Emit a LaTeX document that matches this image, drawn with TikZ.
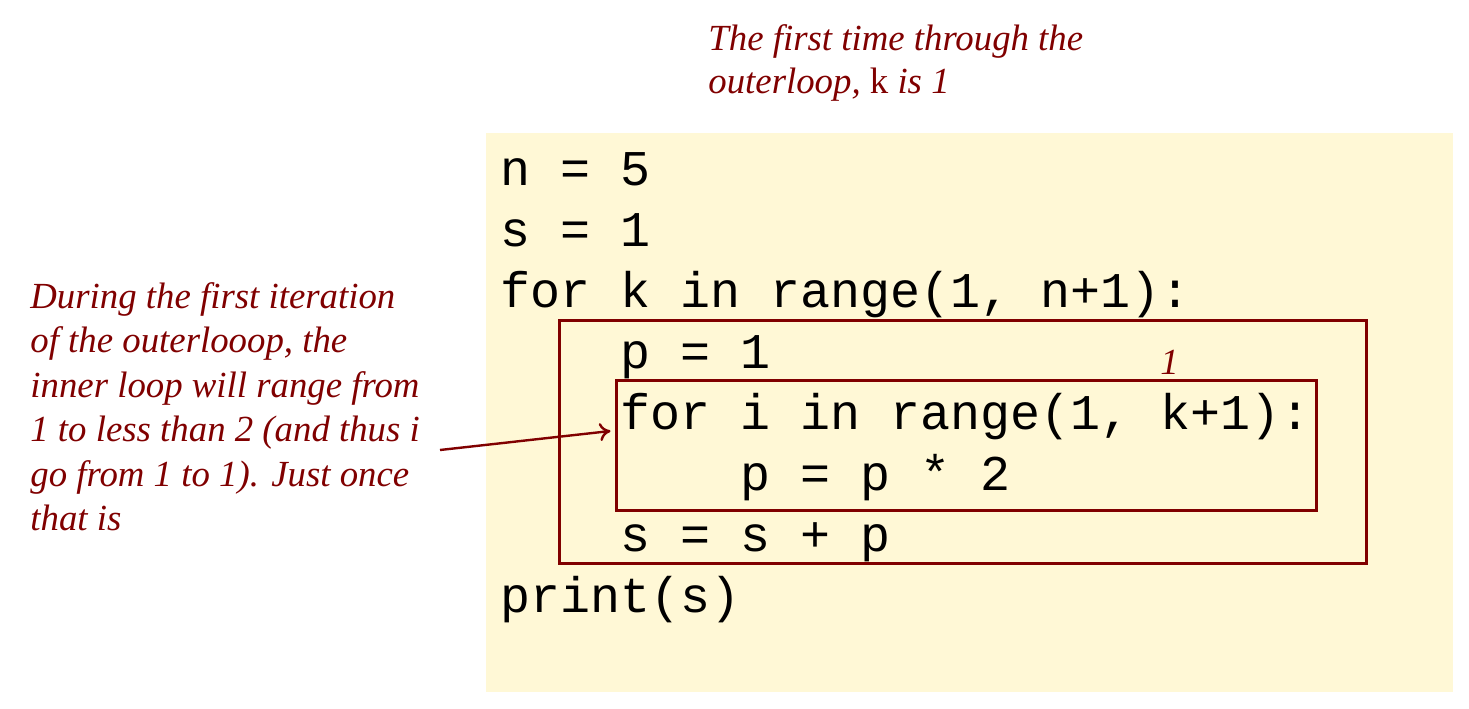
\documentclass[tikz,border=0pt]{standalone}
\usepackage{fontspec}
\setmainfont{Liberation Serif}
\setmonofont{Liberation Mono}
\usetikzlibrary{fit,arrows.meta}
\definecolor{darkred}{RGB}{128,0,0}
\definecolor{codebg}{RGB}{255,248,214}
\begin{document}
\begin{tikzpicture}[x=0.5pt,y=-0.5pt,
  code/.style={anchor=base west,inner sep=0pt,font=\ttfamily\fontsize{25}{30}\selectfont},
  note/.style={anchor=base west,inner sep=0pt,text=darkred,font=\itshape\fontsize{18.4}{22}\selectfont},
  loopbox/.style={draw=darkred,line width=1.5pt,inner sep=0pt},
  pointer/.style={draw=darkred,line width=1.2pt,-{To[length=5.5pt,width=9pt]}}]
\useasboundingbox (0,0) rectangle (1469,708);
\node[fit={(486,133) (1453,692)},inner sep=0pt,fill=codebg] (bg) {};
% annotations
\node[note] (t1) at (708,50) {The first time through the};
\node[note] (t2) at (708,93) {outerloop, {\upshape k} is 1};
\node[note] (l1) at (30,308) {During the first iteration};
\node[note] (l2) at (30,352) {of the outerlooop, the};
\node[note] (l3) at (30,397) {inner loop will range from};
\node[note] (l4) at (30,441) {1 to less than 2 (and thus i};
\node[note] (l5) at (30,486) {go from 1 to 1). Just once};
\node[note] (l6) at (30,530) {that is};
% code
\node[code] (c1) at (500,185) {n = 5};
\node[code] (c2) at (500,246) {s = 1};
\node[code] (c3) at (500,307) {for k in range(1, n+1):};
\node[code] (c4) at (500,368) {\ \ \ \ p = 1};
\node[code] (c5) at (500,429) {\ \ \ \ for i in range(1, k+1):};
\node[code] (c6) at (500,490) {\ \ \ \ \ \ \ \ p = p * 2};
\node[code] (c7) at (500,551) {\ \ \ \ s = s + p};
\node[code] (c8) at (500,612) {print(s)};
% boxes
\node[loopbox,fit={(559,320) (1366,563)}] (outer) {};
\node[loopbox,fit={(616,380) (1316,510)}] (inner) {};
\node[note] (one) at (1160,374) {1};
% arrow
\coordinate (astart) at (440,450);
\draw[pointer] (astart) -- ([xshift=-2pt,yshift=7pt]inner.west);
\end{tikzpicture}
\end{document}
